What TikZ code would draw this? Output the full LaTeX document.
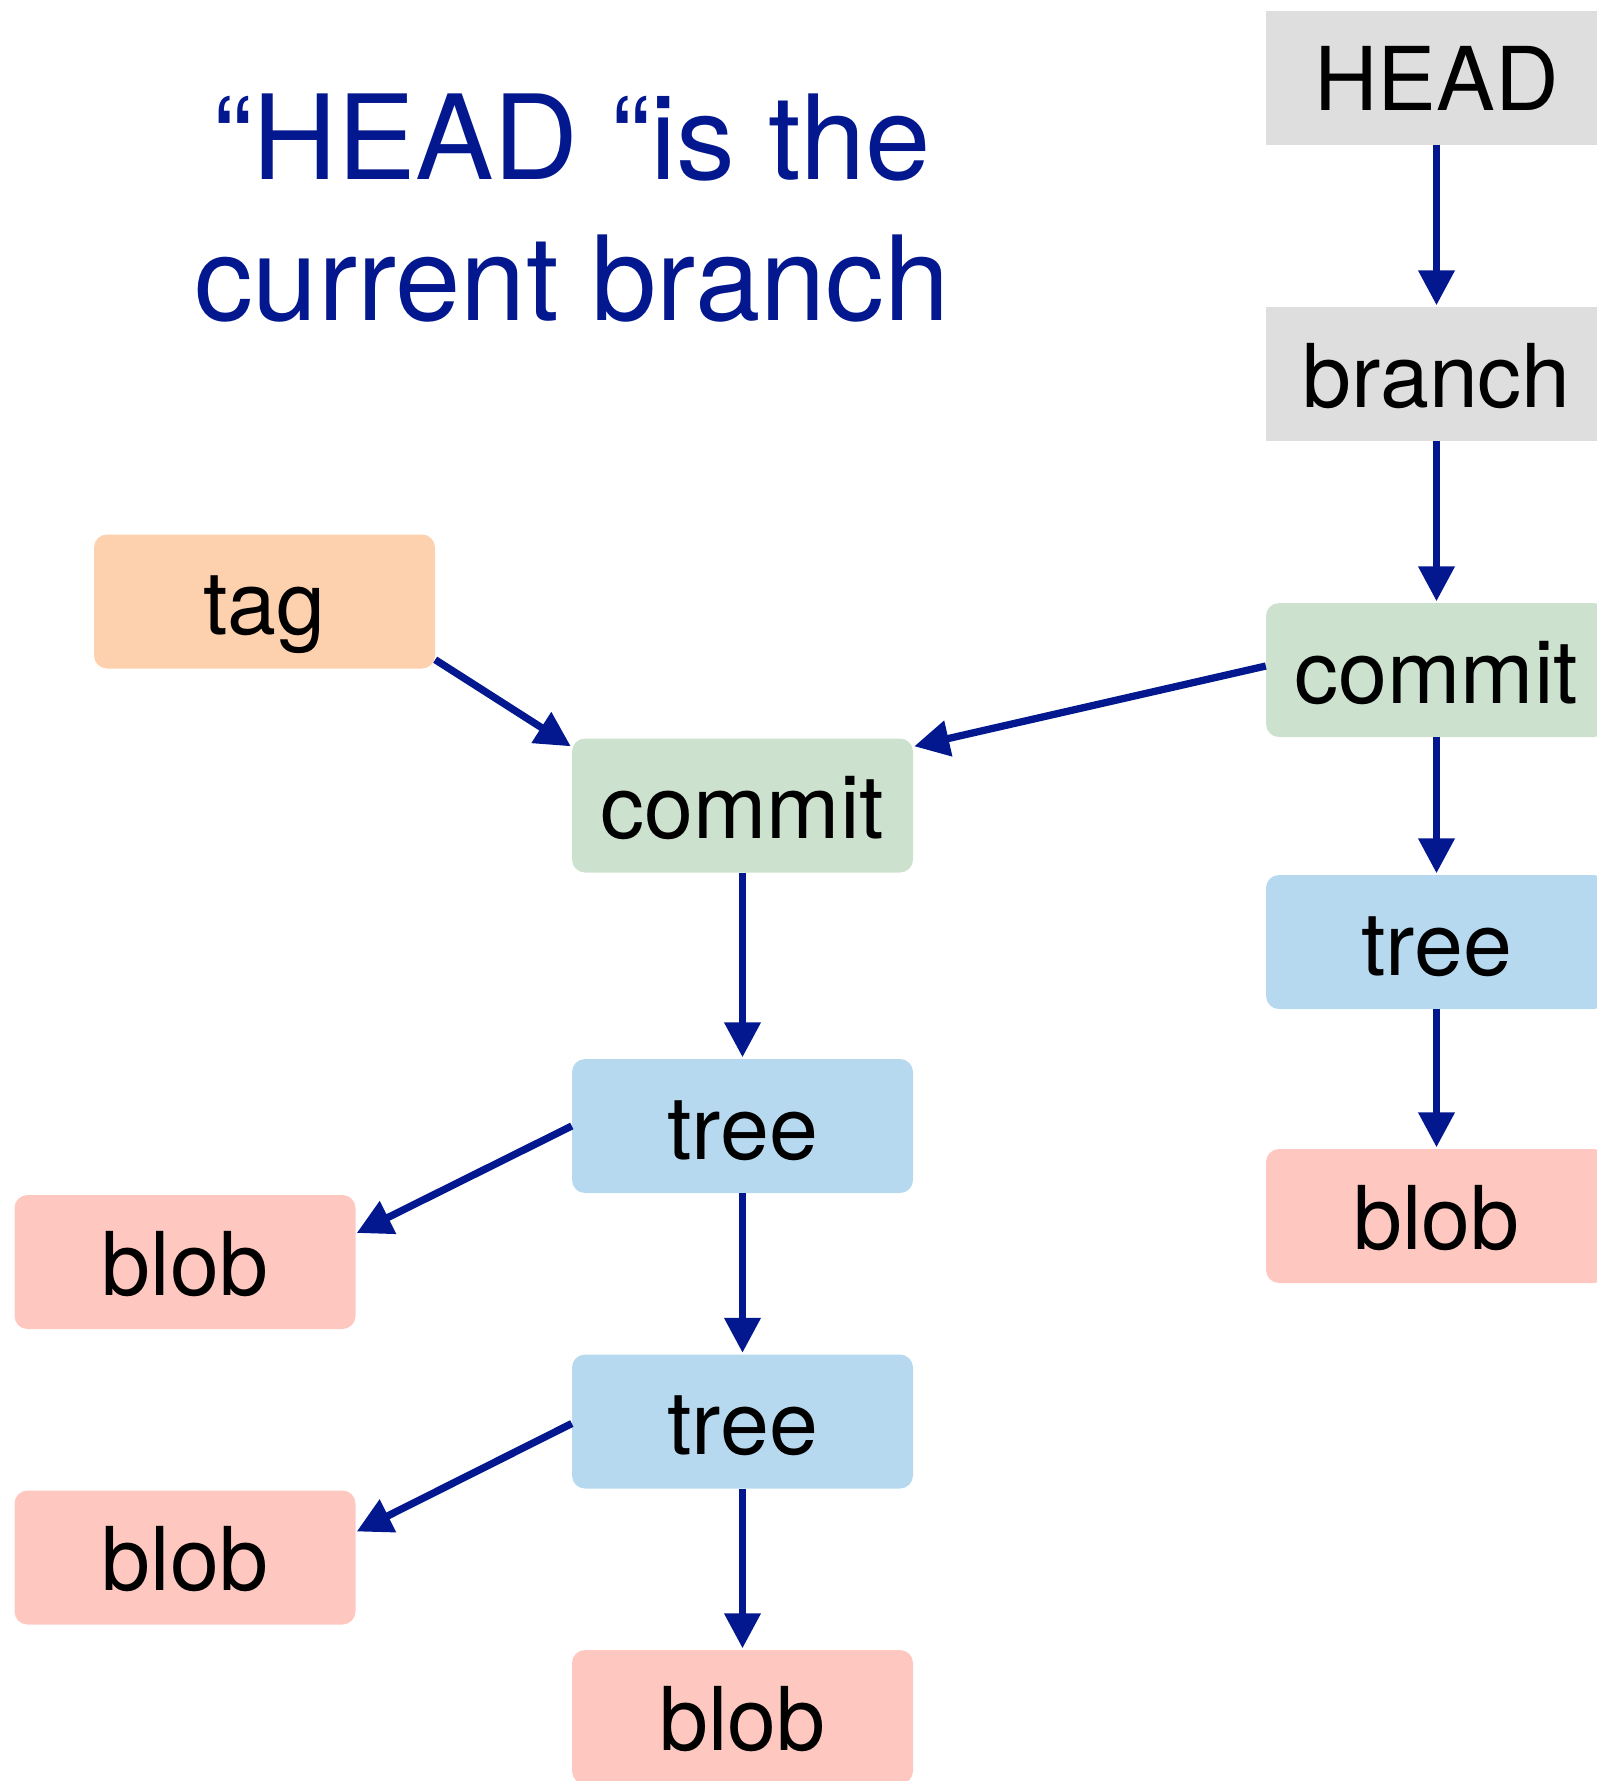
\documentclass[tikz,border=0pt]{standalone}
\usepackage{fontspec}
\setmainfont{TeX Gyre Heros}
\usetikzlibrary{arrows.meta,calc}
\definecolor{arrowblue}{RGB}{3,24,143}
\definecolor{grayfill}{RGB}{222,222,222}
\definecolor{greenfill}{RGB}{205,226,206}
\definecolor{bluefill}{RGB}{182,217,240}
\definecolor{redfill}{RGB}{254,200,193}
\definecolor{orangefill}{RGB}{253,209,174}
\begin{document}
\begin{tikzpicture}[x=1pt,y=-1pt,
  box/.style={minimum width=341pt,minimum height=134pt,inner sep=0pt,
    text height=66pt,text depth=0pt,font=\fontsize{88}{100}\selectfont,
    rounded corners=13pt},
  refbox/.style={box,fill=grayfill,sharp corners},
  commitbox/.style={box,fill=greenfill},
  treebox/.style={box,fill=bluefill},
  blobbox/.style={box,fill=redfill},
  tagbox/.style={box,fill=orangefill},
  arr/.style={draw=arrowblue,line width=7.3pt,-{Triangle[length=35pt,width=35pt]}},
  titletext/.style={anchor=base,text=arrowblue,inner sep=0pt,font=\fontsize{117.5}{141}\selectfont}]
\useasboundingbox (0,0) rectangle (1597,1781);
\clip (0,0) rectangle (1597,1781);

\node[titletext] (title1) at (572,179) {“HEAD “is the};
\node[titletext] (title2) at (572,320) {current branch};

\node[refbox] (head) at (1436.5,77.5) {HEAD};
\node[refbox] (branch) at (1436.5,374) {branch};
\node[commitbox] (rcommit) at (1436.5,670) {commit};
\node[treebox] (rtree) at (1436.5,942) {tree};
\node[blobbox] (rblob) at (1436.5,1216) {blob};

\node[tagbox] (tag) at (264.5,601.5) {tag};
\node[commitbox] (commit) at (742.5,805.5) {commit};
\node[treebox] (tree1) at (742.5,1126) {tree};
\node[treebox] (tree2) at (742.5,1421.5) {tree};
\node[blobbox] (blob3) at (742.5,1717) {blob};
\node[blobbox] (blob1) at (185,1262) {blob};
\node[blobbox] (blob2) at (185,1557.5) {blob};

\draw[arr,shorten >=1.5pt] (head.south) -- (branch.north);
\draw[arr,shorten >=1.5pt] (branch.south) -- (rcommit.north);
\draw[arr,shorten >=1.5pt] (rcommit.south) -- (rtree.north);
\draw[arr,shorten >=1.5pt] (rtree.south) -- (rblob.north);

\draw[arr] ($(rcommit.west)+(0,-4)$) -- ($(commit.north east)+(1,8)$);
\draw[arr] ($(tag.south east)+(0,-9)$) -- ($(commit.north west)+(-1,8)$);

\draw[arr,shorten >=1.5pt] (commit.south) -- (tree1.north);
\draw[arr,shorten >=1.5pt] (tree1.south) -- (tree2.north);
\draw[arr,shorten >=1.5pt] (tree2.south) -- (blob3.north);

\draw[arr] (tree1.west) -- ($(blob1.east)+(1,-29)$);
\draw[arr] ($(tree2.west)+(0,2)$) -- ($(blob2.east)+(1,-26)$);
\end{tikzpicture}
\end{document}
